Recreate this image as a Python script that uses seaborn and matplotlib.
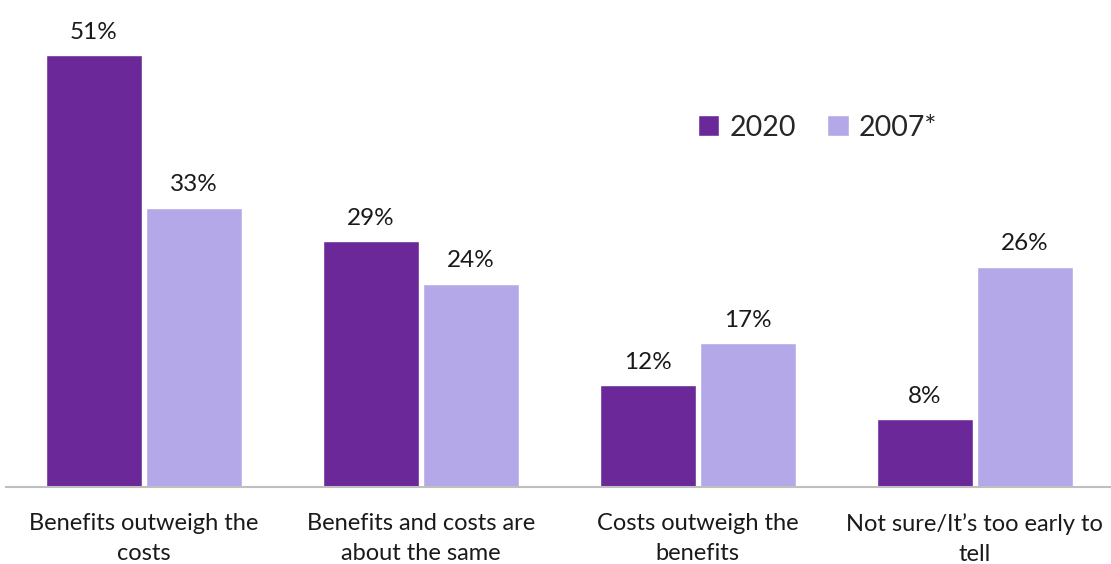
import matplotlib
matplotlib.use("Agg")
import matplotlib.pyplot as plt
import seaborn as sns
import pandas as pd

categories = [
    "Benefits outweigh the\ncosts",
    "Benefits and costs are\nabout the same",
    "Costs outweigh the\nbenefits",
    "Not sure/It\u2019s too early to\ntell",
]
years = ["2020", "2007*"]
values_2020 = [51, 29, 12, 8]
values_2007 = [33, 24, 17, 26]
colors = ["#6A2899", "#B4A8E8"]

df = pd.DataFrame({
    "category": categories * 2,
    "year": [years[0]] * 4 + [years[1]] * 4,
    "value": values_2020 + values_2007,
})

sns.set_style("white")
plt.rcParams["font.family"] = ["Lato", "DejaVu Sans"]

fig = plt.figure(figsize=(11.11, 5.64), dpi=100)
ax = fig.add_axes([0.005, 0.1365, 0.997, 0.8635])

sns.barplot(data=df, x="category", y="value", hue="year", hue_order=years,
            palette=colors, width=0.725, gap=0.045, saturation=1,
            ax=ax, legend=True)

for cont in ax.containers:
    ax.bar_label(cont, labels=[f"{v:.0f}%" for v in cont.datavalues],
                 padding=9, fontsize=17.5, color="#1a1a1a")

ax.set_ylim(0, 57.5)
ax.set_xlim(-0.5, 3.5)
ax.set_xlabel("")
ax.set_ylabel("")
ax.set_yticks([])
ax.tick_params(axis="x", length=0, pad=19, labelsize=17, labelcolor="#1a1a1a")
for lbl in ax.get_xticklabels():
    lbl.set_linespacing(1.5)
for s in ["top", "right", "left"]:
    ax.spines[s].set_visible(False)
ax.spines["bottom"].set_color("#BFBFBF")
ax.spines["bottom"].set_linewidth(1.5)

handles, labels = ax.get_legend_handles_labels()
ax.legend(handles, labels, loc="center", bbox_to_anchor=(0.733, 0.738),
          ncol=2, frameon=False, fontsize=20.5, handlelength=0.75,
          handleheight=0.75, handletextpad=0.35, columnspacing=1.1)

fig.savefig("out.png", dpi=100)
